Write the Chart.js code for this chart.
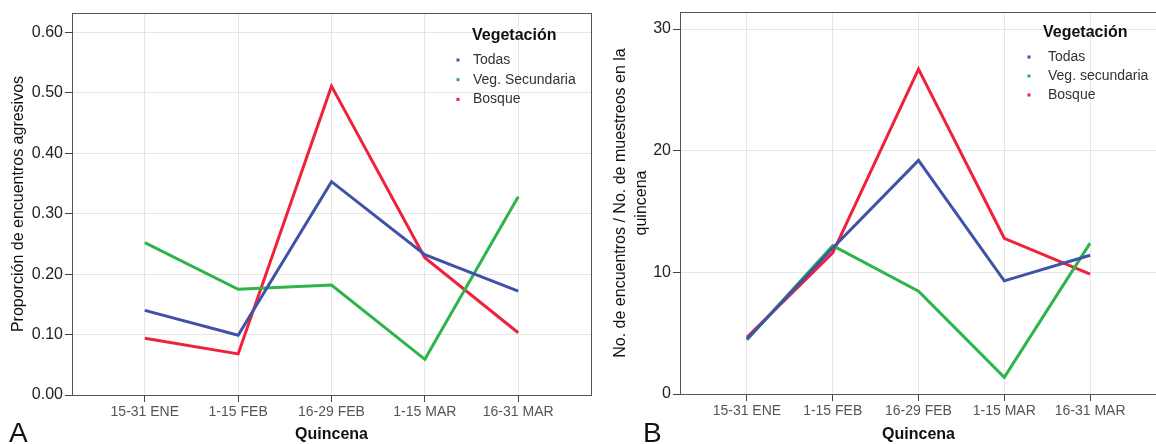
<!DOCTYPE html>
<html>
<head>
<meta charset="utf-8">
<script src="https://cdn.jsdelivr.net/npm/chart.js@4.4.0/dist/chart.umd.min.js"></script>
<style>
  html, body { margin: 0; padding: 0; background: #fff; overflow: hidden; }
  body { width: 1156px; height: 444px; position: relative; font-family: "Liberation Sans", Arial, sans-serif; }
  canvas { position: absolute; top: 0; }
  #chartA { left: 0; }
  #chartB { left: 596px; }
  .panel { position: absolute; top: 419px; font-size: 28px; line-height: 28px; color: #111; }
</style>
</head>
<body>
<canvas id="chartA" width="594" height="444"></canvas>
<canvas id="chartB" width="561" height="444"></canvas>
<div class="panel" style="left:9px">A</div>
<div class="panel" style="left:643px">B</div>
<script>
// Quincenas
const categories = ['15-31 ENE', '1-15 FEB', '16-29 FEB', '1-15 MAR', '16-31 MAR'];

// Panel A: proporción de encuentros agresivos
const namesA = ['Todas', 'Veg. Secundaria', 'Bosque'];
const todasA = [0.140, 0.099, 0.353, 0.232, 0.172];
const secundariaA = [0.252, 0.175, 0.182, 0.059, 0.328];
const bosqueA = [0.094, 0.068, 0.511, 0.227, 0.103];
const yTicksA = [0, 0.1, 0.2, 0.3, 0.4, 0.5, 0.6];

// Panel B: encuentros / muestreos
const namesB = ['Todas', 'Veg. secundaria', 'Bosque'];
const todasB = [4.5, 12.0, 19.2, 9.3, 11.4];
const secundariaB = [4.45, 12.2, 8.45, 1.37, 12.4];
const bosqueB = [4.65, 11.6, 26.7, 12.8, 9.85];
const yTicksB = [0, 10, 20, 30];

const colors = ['#4052a8', '#2db44b', '#f0213a'];

Chart.defaults.font.family = '"Liberation Sans", Arial, sans-serif';

function points(values) {
    return categories.map((c, i) => ({x: i, y: values[i]}));
}

function makeDatasets(names, series) {
    return series.map((s, i) => ({
        label: names[i],
        data: points(s),
        borderColor: colors[i],
        backgroundColor: colors[i],
        borderWidth: 3,
        pointRadius: 0,
        tension: 0
    }));
}

// box around the plot + small legend in the corner
const framePlugin = {
    id: 'frame',
    afterDraw(chart, args, opts) {
        const {ctx, chartArea: a} = chart;
        ctx.save();
        ctx.strokeStyle = '#555';
        ctx.lineWidth = 1;
        ctx.strokeRect(Math.round(a.left) + 0.5, Math.round(a.top) + 0.5,
            Math.round(a.right - a.left), Math.round(a.bottom - a.top));

        // legend
        ctx.fillStyle = '#111';
        ctx.font = 'bold 16px "Liberation Sans", Arial, sans-serif';
        ctx.textBaseline = 'middle';
        ctx.textAlign = 'left';
        ctx.fillText('Vegetación', opts.titleX, opts.titleY);
        ctx.font = '14px "Liberation Sans", Arial, sans-serif';
        chart.data.datasets.forEach((ds, i) => {
            const y = opts.rowY + i * opts.rowStep;
            ctx.fillStyle = ds.borderColor;
            ctx.fillRect(opts.markerX - 1.5, y - 1.5, 3, 3);
            ctx.fillStyle = '#333';
            ctx.fillText(ds.label, opts.textX, y);
        });
        ctx.restore();
    }
};

function makeChart(id, cfg) {
    return new Chart(document.getElementById(id), {
        type: 'line',
        data: {datasets: cfg.datasets},
        plugins: [framePlugin],
        options: {
            responsive: false,
            animation: false,
            devicePixelRatio: 1,
            layout: {padding: cfg.padding},
            plugins: {
                legend: {display: false},
                tooltip: {enabled: false},
                frame: cfg.legend
            },
            scales: {
                x: {
                    type: 'linear',
                    min: -0.78,
                    max: 4.78,
                    afterBuildTicks: s => { s.ticks = categories.map((c, i) => ({value: i})); },
                    afterFit: s => { s.height = cfg.xHeight; },
                    ticks: {
                        callback: v => categories[v],
                        color: '#555',
                        font: {size: 14},
                        padding: 2,
                        maxRotation: 0,
                        autoSkip: false
                    },
                    grid: {color: '#e6e6e6', tickColor: '#444', tickLength: 7},
                    border: {color: '#333'},
                    title: {
                        display: true,
                        text: 'Quincena',
                        color: '#111',
                        font: {size: 16, weight: 'bold'},
                        padding: {top: 0, bottom: 0}
                    }
                },
                y: {
                    min: 0,
                    max: cfg.yMax,
                    afterBuildTicks: s => { s.ticks = cfg.yTicks.map(v => ({value: v})); },
                    afterFit: s => { s.width = cfg.yWidth; },
                    ticks: {
                        callback: cfg.yFormat,
                        color: '#222',
                        font: {size: 16},
                        padding: 2
                    },
                    grid: {color: '#e6e6e6', tickColor: '#444', tickLength: 7},
                    border: {color: '#333'},
                    title: {
                        display: true,
                        text: cfg.yTitle,
                        color: '#111',
                        font: {size: 16, lineHeight: 1.3},
                        padding: {top: cfg.yTitlePad, bottom: 0}
                    }
                }
            }
        }
    });
}

makeChart('chartA', {
    datasets: makeDatasets(namesA, [todasA, secundariaA, bosqueA]),
    padding: {top: 13, right: 3, left: 0, bottom: 0},
    xHeight: 49,
    yWidth: 72,
    yMax: 0.632,
    yTicks: yTicksA,
    yFormat: v => v.toFixed(2),
    yTitle: 'Proporción de encuentros agresivos',
    yTitlePad: 8,
    legend: {titleX: 472, titleY: 36, markerX: 458, textX: 473, rowY: 60, rowStep: 19.7}
});

makeChart('chartB', {
    datasets: makeDatasets(namesB, [todasB, secundariaB, bosqueB]),
    padding: {top: 12, right: 0, left: 0, bottom: 0},
    xHeight: 50,
    yWidth: 84,
    yMax: 31.4,
    yTicks: yTicksB,
    yFormat: v => String(v),
    yTitle: ['No. de encuentros / No. de muestreos en la', 'quincena'],
    yTitlePad: 14.6,
    legend: {titleX: 447, titleY: 33, markerX: 433, textX: 452, rowY: 57, rowStep: 19}
});
</script>
</body>
</html>
